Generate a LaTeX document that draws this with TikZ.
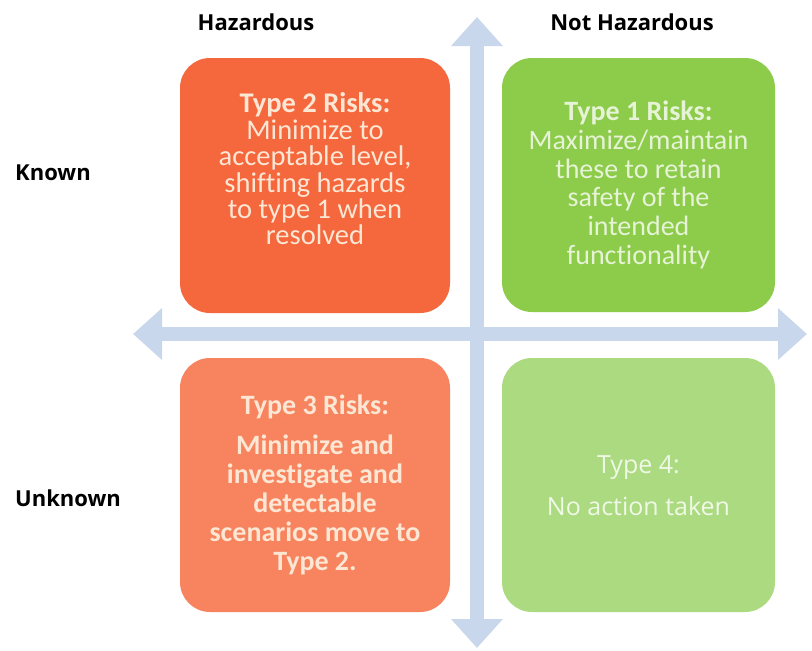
\documentclass[tikz,border=0pt]{standalone}
\usepackage{fontspec}
\setmainfont{Carlito}[Ligatures=NoCommon]
\newfontfamily\osans{Open Sans}
\usetikzlibrary{arrows.meta}
\definecolor{axis}{HTML}{C8D7EB}
\definecolor{redbox}{HTML}{F5673D}
\definecolor{salmonbox}{HTML}{F7845E}
\definecolor{greenbox}{HTML}{8DCB4A}
\definecolor{lightgreen}{HTML}{ABDA80}
\definecolor{creamtxt}{HTML}{FCE6D4}
\definecolor{greentxt}{HTML}{E6F3D6}
\definecolor{palegreentxt}{HTML}{F0F8E6}
\begin{document}
\begin{tikzpicture}[x=1pt,y=-1pt,
  quad/.style={rectangle, rounded corners=30pt, inner sep=0pt, draw=none},
  axisarrow/.style={draw=axis, line width=14pt,
    {Triangle[width=50pt,length=29pt]}-{Triangle[width=50pt,length=29pt]}},
  head/.style={font=\osans\bfseries\fontsize{22}{26}\selectfont, text=black, inner sep=0pt},
  boxtext/.style={align=center, inner sep=0pt}]
\useasboundingbox (0,0) rectangle (812,651);
\fill[white] (0,0) rectangle (812,651);

% axes
\coordinate (top) at (477,17);
\coordinate (bot) at (477,648);
\coordinate (lft) at (133,334);
\coordinate (rgt) at (807,334);
\draw[axisarrow] (top) -- (bot);
\draw[axisarrow] (lft) -- (rgt);

% boxes
\node[quad, fill=redbox, minimum width=270pt, minimum height=255pt] (b2) at (315,185.5) {};
\node[quad, fill=greenbox, minimum width=273pt, minimum height=254pt] (b1) at (638.5,185) {};
\node[quad, fill=salmonbox, minimum width=270pt, minimum height=254pt] (b3) at (315,485) {};
\node[quad, fill=lightgreen, minimum width=273pt, minimum height=254pt] (b4) at (638.5,485) {};

% texts
\node[boxtext, text=creamtxt, font=\fontsize{28.5}{26.4}\selectfont] (t2) at (315,169)
  {\textbf{Type 2 Risks:}\\Minimize to\\acceptable level,\\shifting hazards\\to type 1 when\\resolved};
\node[boxtext, text=greentxt, font=\fontsize{28}{28.8}\selectfont] (t1) at (638.5,185)
  {\textbf{Type 1 Risks:}\\Maximize/maintain\\these to retain\\safety of the\\intended\\functionality};
\node[boxtext, text=creamtxt, font=\bfseries\fontsize{28}{29}\selectfont] (t3) at (315,485)
  {Type 3 Risks:\\[11pt]Minimize and\\investigate and\\detectable\\scenarios move to\\Type 2.};
\node[boxtext, text=palegreentxt, font=\osans\fontsize{25}{30}\selectfont] (t4) at (638.5,486)
  {Type 4:\\[12pt]No action taken};

% headings
\node[head] (haz) at (256,22) {Hazardous};
\node[head] (nhaz) at (632,22) {Not Hazardous};
\node[head, anchor=west] (known) at (15,173) {Known};
\node[head, anchor=west] (unknown) at (15,498) {Unknown};
\end{tikzpicture}
\end{document}
